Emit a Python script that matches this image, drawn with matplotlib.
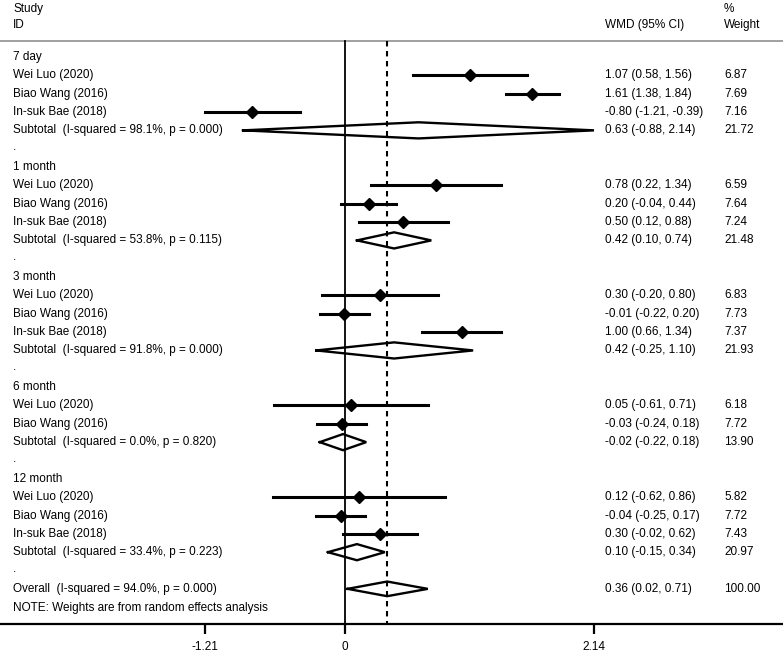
import matplotlib
matplotlib.use("Agg")
import matplotlib.pyplot as plt
import matplotlib.transforms as mtransforms

plt.rcParams['font.family'] = ['Liberation Sans', 'DejaVu Sans']

# 数据
group_names = ["7 day", "1 month", "3 month", "6 month", "12 month"]
study_group = [0, 0, 0, 1, 1, 1, 2, 2, 2, 3, 3, 4, 4, 4]
study_names = ["Wei Luo (2020)", "Biao Wang (2016)", "In-suk Bae (2018)",
               "Wei Luo (2020)", "Biao Wang (2016)", "In-suk Bae (2018)",
               "Wei Luo (2020)", "Biao Wang (2016)", "In-suk Bae (2018)",
               "Wei Luo (2020)", "Biao Wang (2016)",
               "Wei Luo (2020)", "Biao Wang (2016)", "In-suk Bae (2018)"]
study_wmd = [1.07, 1.61, -0.80, 0.78, 0.20, 0.50, 0.30, -0.01, 1.00, 0.05, -0.03, 0.12, -0.04, 0.30]
study_lo = [0.58, 1.38, -1.21, 0.22, -0.04, 0.12, -0.20, -0.22, 0.66, -0.61, -0.24, -0.62, -0.25, -0.02]
study_hi = [1.56, 1.84, -0.39, 1.34, 0.44, 0.88, 0.80, 0.20, 1.34, 0.71, 0.18, 0.86, 0.17, 0.62]
study_weight = [6.87, 7.69, 7.16, 6.59, 7.64, 7.24, 6.83, 7.73, 7.37, 6.18, 7.72, 5.82, 7.72, 7.43]

sub_i2 = [98.1, 53.8, 91.8, 0.0, 33.4]
sub_p = [0.000, 0.115, 0.000, 0.820, 0.223]
sub_wmd = [0.63, 0.42, 0.42, -0.02, 0.10]
sub_lo = [-0.88, 0.10, -0.25, -0.22, -0.15]
sub_hi = [2.14, 0.74, 1.10, 0.18, 0.34]
sub_weight = [21.72, 21.48, 21.93, 13.90, 20.97]

overall_wmd = 0.36
overall_lo = 0.02
overall_hi = 0.71
overall_weight = 100.00
overall_i2 = 94.0
overall_p = 0.000

x_ticks = [-1.21, 0, 2.14]
x_ticklabels = ["-1.21", "0", "2.14"]

W, H = 783, 654
fig = plt.figure(figsize=(W / 100, H / 100), dpi=100)
axis_px = 624  # 坐标轴线位置(像素, 从上往下)
ax = fig.add_axes([0, (H - axis_px) / H, 1, axis_px / H])

# 像素 -> 数据的换算
x0_px, x_scale = 345.3, 116.2
y0_px, row_h = 57, 18.34
ax.set_xlim(-x0_px / x_scale, (W - x0_px) / x_scale)
ax.set_ylim((axis_px - y0_px) / row_h, -y0_px / row_h)

for s in ['top', 'left', 'right']:
    ax.spines[s].set_visible(False)
ax.spines['bottom'].set_linewidth(1.6)
ax.set_yticks([])
ax.set_xticks(x_ticks)
ax.set_xticklabels(x_ticklabels)
ax.tick_params(axis='x', direction='out', length=7.5, width=1.6, pad=5, labelsize=8.5)

tr = mtransforms.blended_transform_factory(ax.transAxes, ax.transData)
fs = 8.5
col_label = 13 / W
col_wmd = 605 / W
col_w = 724 / W

def ci_text(e, lo, hi):
    return "%.2f (%.2f, %.2f)" % (e, lo, hi)

def diamond(y, e, lo, hi, h=0.44):
    ax.plot([lo, e, hi, e, lo], [y, y - h, y, y + h, y], color='black', lw=1.7,
            solid_joinstyle='miter', zorder=4)

# 表头
ax.text(col_label, -2.62, "Study", transform=tr, fontsize=fs, va='center')
ax.text(col_label, -1.72, "ID", transform=tr, fontsize=fs, va='center')
ax.text(col_w, -2.62, "%", transform=tr, fontsize=fs, va='center')
ax.text(col_wmd, -1.72, "WMD (95% CI)", transform=tr, fontsize=fs, va='center')
ax.text(col_w, -1.72, "Weight", transform=tr, fontsize=fs, va='center')
header_y = -0.89
ax.axhline(header_y, color='#999999', lw=1.3)

row = 0
for g, gname in enumerate(group_names):
    ax.text(col_label, row, gname, transform=tr, fontsize=fs, va='center')
    row += 1
    for i in range(len(study_names)):
        if study_group[i] != g:
            continue
        ax.text(col_label, row, study_names[i], transform=tr, fontsize=fs, va='center')
        ax.plot([study_lo[i], study_hi[i]], [row, row], color='black', lw=2.2, zorder=3)
        ax.plot(study_wmd[i], row, marker='D', color='black', ms=6, zorder=5)
        ax.text(col_wmd, row, ci_text(study_wmd[i], study_lo[i], study_hi[i]),
                transform=tr, fontsize=fs, va='center')
        ax.text(col_w, row, "%.2f" % study_weight[i], transform=tr, fontsize=fs, va='center')
        row += 1
    ax.text(col_label, row, "Subtotal  (I-squared = %.1f%%, p = %.3f)" % (sub_i2[g], sub_p[g]),
            transform=tr, fontsize=fs, va='center')
    diamond(row, sub_wmd[g], sub_lo[g], sub_hi[g])
    ax.text(col_wmd, row, ci_text(sub_wmd[g], sub_lo[g], sub_hi[g]),
            transform=tr, fontsize=fs, va='center')
    ax.text(col_w, row, "%.2f" % sub_weight[g], transform=tr, fontsize=fs, va='center')
    row += 1
    ax.text(col_label, row - 0.1, ".", transform=tr, fontsize=fs, va='center')
    row += 1

ax.text(col_label, row, "Overall  (I-squared = %.1f%%, p = %.3f)" % (overall_i2, overall_p),
        transform=tr, fontsize=fs, va='center')
diamond(row, overall_wmd, overall_lo, overall_hi, h=0.4)
ax.text(col_wmd, row, ci_text(overall_wmd, overall_lo, overall_hi),
        transform=tr, fontsize=fs, va='center')
ax.text(col_w, row, "%.2f" % overall_weight, transform=tr, fontsize=fs, va='center')
row += 1
ax.text(col_label, row + 0.05, "NOTE: Weights are from random effects analysis",
        transform=tr, fontsize=fs, va='center')

# 参考线
ybot = ax.get_ylim()[0]
ax.plot([0, 0], [header_y, ybot], color='black', lw=1.3, zorder=2)
ax.plot([overall_wmd, overall_wmd], [header_y, ybot], color='black', lw=1.5,
        linestyle=(0, (2.6, 2.2)), zorder=2)

fig.savefig("out.png", dpi=100)
